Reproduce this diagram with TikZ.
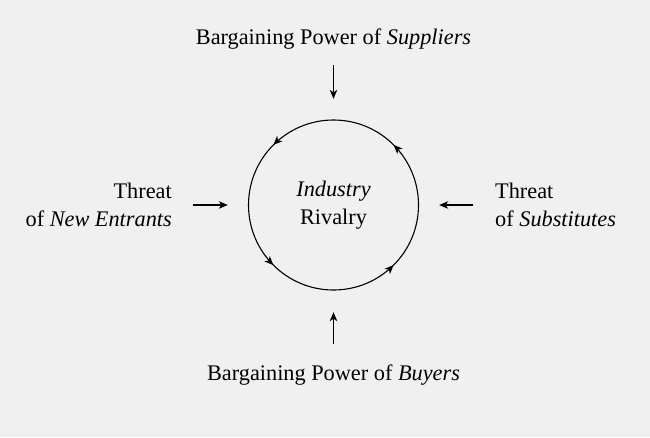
\documentclass[tikz,border=0pt]{standalone}
\usepackage{fontspec}
\setmainfont{Liberation Serif}
\usetikzlibrary{arrows.meta,decorations.markings}
\definecolor{bg}{HTML}{F0F0F0}
\tikzset{
  force/.style={-{Stealth[length=9pt,width=7.5pt,inset=2.5pt]}, line width=1.1pt},
  ring/.style={line width=1.1pt, postaction={decorate}, decoration={markings,
    mark=between positions 0.125 and 0.875 step 0.25 with {\arrow{Stealth[length=9pt,width=7.5pt,inset=2.5pt]}}}},
  lbl/.style={inner sep=0pt, font=\fontsize{22.3}{28}\selectfont}
}

\begin{document}
\begin{tikzpicture}[x=1pt,y=-1pt]
\fill[bg] (0,0) rectangle (650,437);
\useasboundingbox (0,0) rectangle (650,437);

\node[lbl, minimum size=170pt, align=center] (rival) at (333.5,205) {\textit{Industry}\\Rivalry};
\draw[ring] (rival.center) circle[radius=85pt];

\node[lbl, anchor=base] (supp) at (333.5,44) {Bargaining Power of \textit{Suppliers}};
\node[lbl, anchor=base] (buy) at (333.5,380) {Bargaining Power of \textit{Buyers}};
\node[lbl, anchor=east, align=right] (ent) at (172,205) {Threat\\of \textit{New Entrants}};
\node[lbl, anchor=west, align=left] (sub) at (495,205) {Threat\\of \textit{Substitutes}};

\draw[force, shorten <=16pt, shorten >=21pt] (supp.south) -- (rival.north);
\draw[force, shorten <=20pt, shorten >=22pt] (buy.north) -- (rival.south);
\draw[force, shorten <=21pt, shorten >=20.5pt] (ent.east |- rival) -- (rival.west);
\draw[force, shorten <=22pt, shorten >=20.5pt] (sub.west |- rival) -- (rival.east);
\end{tikzpicture}
\end{document}
